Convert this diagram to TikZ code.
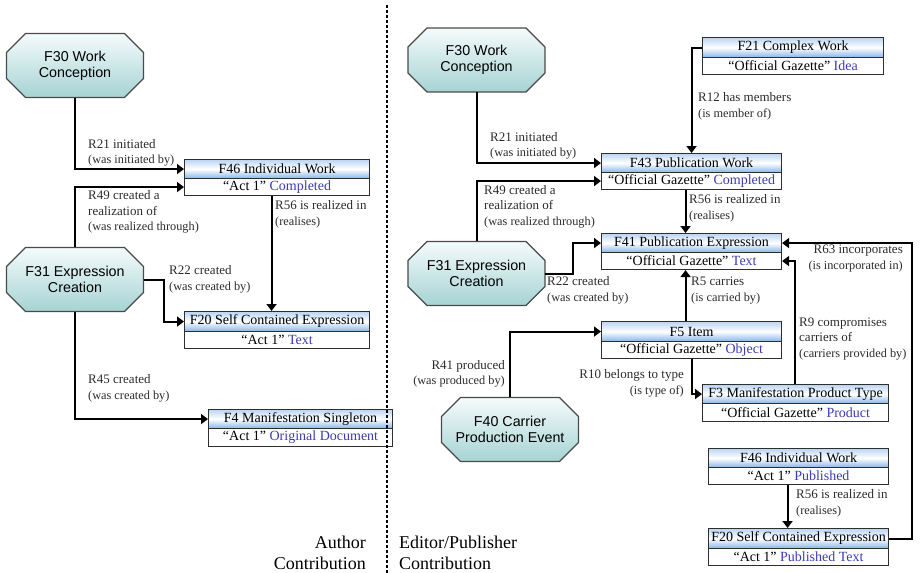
\documentclass[tikz,border=0pt]{standalone}
\usepackage{fontspec}
\setmainfont{Liberation Serif}
\newfontfamily\octfont{Liberation Sans}
\usetikzlibrary{arrows.meta,calc}
\definecolor{hdrtop}{HTML}{BBD5F2}
\definecolor{hdrbot}{HTML}{86B4EA}
\definecolor{boxline}{HTML}{2E2E2E}
\definecolor{octtop}{HTML}{F5FBFB}
\definecolor{octbot}{HTML}{A6D3D4}
\definecolor{octline}{HTML}{4A4A4A}
\definecolor{lnk}{HTML}{3C3CB4}
\definecolor{lblc}{HTML}{2B2B2B}
\newcommand\lk[1]{\textcolor{lnk}{#1}}
\newcommand\smf{\fontsize{12.3}{15.5}\selectfont}
\tikzset{
  hdr/.style={draw=boxline, line width=1.1pt, top color=hdrtop, bottom color=hdrbot, middle color=white,
    inner sep=0pt, anchor=north west, font=\fontsize{14}{16}\selectfont},
  bdy/.style={draw=boxline, line width=1.1pt, fill=white, inner sep=0pt, anchor=north west,
    font=\fontsize{14}{16}\selectfont},
  octn/.style={minimum width=137pt, minimum height=64pt, inner sep=0pt, align=center,
    font=\octfont\fontsize{14.3}{16}\selectfont},
  octp/.style={draw=octline, line width=1.1pt, top color=octtop, bottom color=octbot},
  arr/.style={line width=2pt, -{Triangle[length=7pt,width=10pt]}},
  lbl/.style={inner sep=0pt, align=left, anchor=west, text=lblc, font=\fontsize{13}{15.5}\selectfont},
  lblr/.style={lbl, align=right, anchor=east},
  contrib/.style={inner sep=0pt, font=\fontsize{18}{21}\selectfont},
  divline/.style={line width=1.2pt, dash pattern=on 3pt off 2pt},
}
\newcommand\ubox[8]{%
  \node[hdr, minimum width={(#5)-(#2)}, minimum height={(#4)-(#3)}] (#1) at (#2,#3) {#7};
  \node[bdy, minimum width={(#5)-(#2)}, minimum height={(#6)-(#4)}] (#1b) at (#2,#4) {#8};
}
\newcommand\octo[4]{%
  \path[octp] ({#2-49.5},{#3-32}) -- ({#2+49.5},{#3-32}) -- ({#2+68.5},{#3-13}) -- ({#2+68.5},{#3+13})
    -- ({#2+49.5},{#3+32}) -- ({#2-49.5},{#3+32}) -- ({#2-68.5},{#3+13}) -- ({#2-68.5},{#3-13}) -- cycle;
  \node[octn] (#1) at (#2,#3) {#4};
}
\begin{document}
\begin{tikzpicture}[x=1pt,y=-1pt]
\useasboundingbox (0,0) rectangle (924,573);
% ---------- left part ----------
\octo{f30a}{75}{65.5}{F30 Work\\Conception}
\octo{f31a}{75}{279.5}{F31 Expression\\Creation}
\ubox{f46}{184}{159}{178}{369}{195}{F46 Individual Work}{“Act 1” \lk{Completed}}
\ubox{f20}{184}{311}{331}{369}{348}{F20 Self Contained Expression}{“Act 1” \lk{Text}}
\ubox{f4}{208}{409}{428}{392}{446}{F4 Manifestation Singleton}{“Act 1” \lk{Original Document}}

\draw[arr] (f30a.south) |- (f46.west);
\draw[arr] (f31a.north) |- (f46b.west);
\draw[arr] ($(f46b.south)+(-5.5,0)$) -- ($(f20.north)+(-5.5,0)$);
\draw[arr] (f31a.east) -- ++(20,0) |- (f20.west);
\draw[arr] (f31a.south) |- (f4.west);

\node[lbl] (l21a) at (88,153) {R21 initiated\\{\smf (was initiated by)}};
\node[lbl] (l49a) at (88,212) {R49 created a\\realization of\\{\smf (was realized through)}};
\node[lbl] (l56a) at (275,214.5) {R56 is realized in\\{\smf (realises)}};
\node[lbl] (l22a) at (169,279.5) {R22 created\\{\smf (was created by)}};
\node[lbl] (l45a) at (88,388.5) {R45 created\\{\smf (was created by)}};

\node[contrib, align=right, anchor=east] (auth) at (366,552.5) {Author\\Contribution};

% ---------- right part ----------
\octo{f30b}{476.5}{60}{F30 Work\\Conception}
\octo{f31b}{476.5}{273.5}{F31 Expression\\Creation}
\octo{f40}{510}{429.5}{F40 Carrier\\Production Event}
\ubox{f21}{702}{37}{57}{883}{74}{F21 Complex Work}{“Official Gazette” \lk{Idea}}
\ubox{f43}{601}{153}{172}{781}{189}{F43 Publication Work}{“Official Gazette” \lk{Completed}}
\ubox{f41}{601}{233}{252}{781}{269}{F41 Publication Expression}{“Official Gazette” \lk{Text}}
\ubox{f5}{601}{321}{341}{781}{358}{F5 Item}{“Official Gazette” \lk{Object}}
\ubox{f3}{702}{384}{403}{888}{421}{F3 Manifestation Product Type}{“Official Gazette” \lk{Product}}
\ubox{f46r}{708}{448}{467}{888}{484}{F46 Individual Work}{“Act 1” \lk{Published}}
\ubox{f20r}{708}{528}{548}{888}{565}{F20 Self Contained Expression}{“Act 1” \lk{Published Text}}

\draw[arr] (f30b.south) |- (f43.west);
\draw[arr] (f31b.north) |- (f43b.west);
\draw[arr] (f21.west) -| (f43.north);
\draw[arr] ($(f43b.south)+(-6,0)$) -- ($(f41.north)+(-6,0)$);
\draw[arr] (f31b.east) -- ++(28,0) |- (f41.west);
\draw[arr] ($(f5.north)+(-6,0)$) -- ($(f41b.south)+(-6,0)$);
\draw[arr] (f20r.east) -- ++(23,0) |- (f41.east);
\draw[arr] ($(f3.north west)+(93,0)$) |- (f41b.east);
\draw[arr] (f40.north) |- (f5.west);
\draw[arr] (f5b.south) |- (f3.west);
\draw[arr] ($(f46rb.south)+(-11,0)$) -- ($(f20r.north)+(-11,0)$);

\node[lbl] (l21b) at (490,146) {R21 initiated\\{\smf (was initiated by)}};
\node[lbl] (l49b) at (484,206.5) {R49 created a\\realization of\\{\smf (was realized through)}};
\node[lbl] (l12) at (698,106.5) {R12 has members\\{\smf (is member of)}};
\node[lbl] (l56b) at (689,208.5) {R56 is realized in\\{\smf (realises)}};
\node[lbl] (l22b) at (547,290.5) {R22 created\\{\smf (was created by)}};
\node[lbl] (l5) at (691,290.5) {R5 carries\\{\smf (is carried by)}};
\node[lblr] (l63) at (903,258.5) {R63 incorporates\\{\smf (is incorporated in)}};
\node[lbl] (l9) at (799,339) {R9 compromises\\carriers of\\{\smf (carriers provided by)}};
\node[lblr] (l41) at (505,374) {R41 produced\\{\smf (was produced by)}};
\node[lblr] (l10) at (684,383.5) {R10 belongs to type\\{\smf (is type of)}};
\node[lbl] (l56c) at (796,503.5) {R56 is realized in\\{\smf (realises)}};

\node[contrib, align=left, anchor=west] (edit) at (399,552.5) {Editor/Publisher\\Contribution};

% ---------- divider ----------
\coordinate (dtop) at (387,5);
\coordinate (dbot) at (387,573);
\draw[divline] (dtop) -- (dbot);
\end{tikzpicture}
\end{document}
